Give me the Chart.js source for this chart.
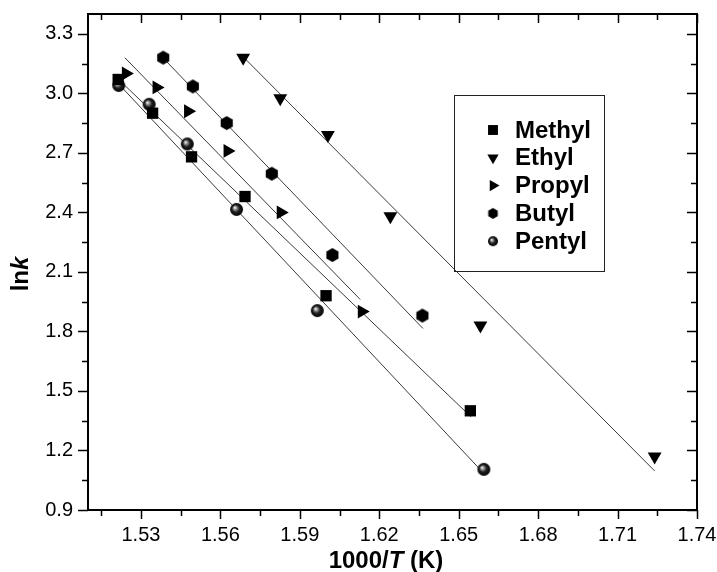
<!DOCTYPE html>
<html>
<head>
<meta charset="utf-8">
<script src="https://cdn.jsdelivr.net/npm/chart.js@4.4.0/dist/chart.umd.min.js"></script>
<style>
    html, body { margin: 0; padding: 0; background: #fff; }
    canvas { display: block; }
</style>
</head>
<body>
<canvas id="arrheniusChart" width="717" height="572"></canvas>
<script>
// values: x = 1000/T (K), y = ln k
const seriesNames = ['Methyl', 'Ethyl', 'Propyl', 'Butyl', 'Pentyl'];

const methylX = [1.5214, 1.5344, 1.5491, 1.5693, 1.5999, 1.6544];
const methylY = [3.07, 2.90, 2.68, 2.48, 1.98, 1.40];
const ethylX = [1.5686, 1.5826, 1.6006, 1.6242, 1.6582, 1.7240];
const ethylY = [3.18, 2.975, 2.79, 2.38, 1.83, 1.17];
const propylX = [1.5243, 1.5359, 1.5478, 1.5627, 1.5828, 1.6134];
const propylY = [3.10, 3.03, 2.91, 2.71, 2.40, 1.90];
const butylX = [1.5384, 1.5496, 1.5624, 1.5794, 1.6023, 1.6363];
const butylY = [3.18, 3.035, 2.85, 2.595, 2.185, 1.88];
const pentylX = [1.5216, 1.5331, 1.5475, 1.5661, 1.5966, 1.6595];
const pentylY = [3.04, 2.945, 2.745, 2.415, 1.905, 1.105];

// fitted lines, end points as drawn in the figure
const methylFitX = [1.5214, 1.6547];
const methylFitY = [3.072, 1.369];
const ethylFitX = [1.5687, 1.7240];
const ethylFitY = [3.183, 1.097];
const propylFitX = [1.5239, 1.6128];
const propylFitY = [3.180, 1.961];
const butylFitX = [1.5384, 1.6365];
const butylFitY = [3.178, 1.815];
const pentylFitX = [1.5216, 1.6586];
const pentylFitY = [3.047, 1.097];

const xTicks = [1.53, 1.56, 1.59, 1.62, 1.65, 1.68, 1.71, 1.74];
const xMinorTicks = [1.515, 1.545, 1.575, 1.605, 1.635, 1.665, 1.695, 1.725];
const yTicks = [0.9, 1.2, 1.5, 1.8, 2.1, 2.4, 2.7, 3.0, 3.3];
const yMinorTicks = [1.05, 1.35, 1.65, 1.95, 2.25, 2.55, 2.85, 3.15];

const toPoints = (xs, ys) => xs.map((v, i) => ({ x: v, y: ys[i] }));

function makeHexagon(r) {
    const size = Math.ceil(r * 2 + 2);
    const c = document.createElement('canvas');
    c.width = c.height = size;
    const ctx = c.getContext('2d');
    ctx.fillStyle = '#000';
    ctx.beginPath();
    for (let i = 0; i < 6; i++) {
        const a = Math.PI / 2 + i * Math.PI / 3;
        const px = size / 2 + r * Math.cos(a);
        const py = size / 2 + r * Math.sin(a);
        if (i === 0) ctx.moveTo(px, py); else ctx.lineTo(px, py);
    }
    ctx.closePath();
    ctx.fill();
    return c;
}

function makeSphere(r) {
    const size = Math.ceil(r * 2 + 2);
    const c = document.createElement('canvas');
    c.width = c.height = size;
    const ctx = c.getContext('2d');
    const cx = size / 2, cy = size / 2;
    const g = ctx.createRadialGradient(cx - r * 0.3, cy - r * 0.3, 0, cx, cy, r);
    g.addColorStop(0, '#ffffff');
    g.addColorStop(0.25, '#9a9a9a');
    g.addColorStop(0.55, '#222');
    g.addColorStop(1, '#000');
    ctx.fillStyle = g;
    ctx.beginPath();
    ctx.arc(cx, cy, r, 0, Math.PI * 2);
    ctx.fill();
    return c;
}

const hexBig = makeHexagon(7);
const sphereBig = makeSphere(6.5);
const hexSmall = makeHexagon(5.5);
const sphereSmall = makeSphere(5);

// pointStyle, rotation, radius on plot, radius in legend
const markerStyles = [
    { style: 'rect', rotation: 0, radius: 8, legendStyle: 'rect', legendRadius: 7 },
    { style: 'triangle', rotation: 180, radius: 8, legendStyle: 'triangle', legendRadius: 6.5 },
    { style: 'triangle', rotation: 90, radius: 8, legendStyle: 'triangle', legendRadius: 6.5 },
    { style: hexBig, rotation: 0, radius: 7, legendStyle: hexSmall, legendRadius: 5 },
    { style: sphereBig, rotation: 0, radius: 7, legendStyle: sphereSmall, legendRadius: 5 }
];

const pointSets = [
    toPoints(methylX, methylY),
    toPoints(ethylX, ethylY),
    toPoints(propylX, propylY),
    toPoints(butylX, butylY),
    toPoints(pentylX, pentylY)
];
const fitSets = [
    toPoints(methylFitX, methylFitY),
    toPoints(ethylFitX, ethylFitY),
    toPoints(propylFitX, propylFitY),
    toPoints(butylFitX, butylFitY),
    toPoints(pentylFitX, pentylFitY)
];

const datasets = [];
pointSets.forEach((pts, i) => {
    datasets.push({
        label: seriesNames[i],
        data: pts,
        showLine: false,
        pointStyle: markerStyles[i].style,
        rotation: markerStyles[i].rotation,
        pointRadius: markerStyles[i].radius,
        pointBackgroundColor: '#000',
        pointBorderColor: '#000',
        pointBorderWidth: 0
    });
});
fitSets.forEach((pts, i) => {
    datasets.push({
        label: seriesNames[i] + ' fit',
        data: pts,
        showLine: true,
        borderColor: '#3a3a3a',
        borderWidth: 1,
        pointRadius: 0,
        fill: false
    });
});

const framePlugin = {
    id: 'frame',
    afterDraw(chart) {
        const { ctx, chartArea: a, scales: { x, y } } = chart;
        ctx.save();
        ctx.strokeStyle = '#000';
        ctx.lineWidth = 2;
        ctx.strokeRect(a.left, a.top, a.right - a.left, a.bottom - a.top);
        ctx.lineWidth = 1.5;
        ctx.beginPath();
        const xMark = (v, len) => {
            const px = Math.round(x.getPixelForValue(v)) + 0.5;
            ctx.moveTo(px, a.bottom); ctx.lineTo(px, a.bottom + len);
            ctx.moveTo(px, a.top); ctx.lineTo(px, a.top + len);
        };
        const yMark = (v, len) => {
            const py = Math.round(y.getPixelForValue(v)) + 0.5;
            ctx.moveTo(a.left, py); ctx.lineTo(a.left - len, py);
            ctx.moveTo(a.right, py); ctx.lineTo(a.right - len, py);
        };
        xTicks.forEach(v => xMark(v, 9));
        xMinorTicks.forEach(v => xMark(v, 6));
        yTicks.forEach(v => yMark(v, 10));
        yMinorTicks.forEach(v => yMark(v, 6));
        ctx.stroke();

        // axis titles
        ctx.fillStyle = '#000';
        ctx.textBaseline = 'alphabetic';
        const parts = [
            { t: '1000/', f: 'bold 24px "Liberation Sans", Arial, sans-serif' },
            { t: 'T', f: 'italic bold 24px "Liberation Sans", Arial, sans-serif' },
            { t: ' (K)', f: 'bold 24px "Liberation Sans", Arial, sans-serif' }
        ];
        let total = 0;
        parts.forEach(p => { ctx.font = p.f; p.w = ctx.measureText(p.t).width; total += p.w; });
        let tx = 386 - total / 2;
        ctx.textAlign = 'left';
        parts.forEach(p => { ctx.font = p.f; ctx.fillText(p.t, tx, 568); tx += p.w; });

        ctx.save();
        ctx.translate(28, 274);
        ctx.rotate(-Math.PI / 2);
        const yParts = [
            { t: 'ln', f: 'bold 24px "Liberation Sans", Arial, sans-serif' },
            { t: 'k', f: 'italic bold 24px "Liberation Sans", Arial, sans-serif' }
        ];
        total = 0;
        yParts.forEach(p => { ctx.font = p.f; p.w = ctx.measureText(p.t).width; total += p.w; });
        tx = -total / 2;
        yParts.forEach(p => { ctx.font = p.f; ctx.fillText(p.t, tx, 0); tx += p.w; });
        ctx.restore();

        // legend box
        ctx.lineWidth = 1;
        ctx.strokeStyle = '#222';
        ctx.strokeRect(454.5, 95.5, 150, 176);
        ctx.font = 'bold 24px "Liberation Sans", Arial, sans-serif';
        ctx.textAlign = 'left';
        ctx.textBaseline = 'middle';
        seriesNames.forEach((name, i) => {
            const cy = 130 + i * 27.8;
            const m = markerStyles[i];
            ctx.fillStyle = '#000';
            Chart.helpers.drawPoint(ctx, {
                pointStyle: m.legendStyle,
                rotation: m.rotation,
                radius: m.legendRadius,
                borderWidth: 0
            }, 493, cy);
            ctx.fillStyle = '#000';
            ctx.fillText(name, 515, cy + 1);
        });
        ctx.restore();
    }
};

document.addEventListener('DOMContentLoaded', () => {
    const chartEl = document.getElementById('arrheniusChart');

    new Chart(chartEl, {
        type: 'scatter',
        data: { datasets: datasets },
        options: {
            responsive: false,
            animation: false,
            devicePixelRatio: 1,
            layout: { padding: { left: 0, top: 14, right: 20, bottom: 0 } },
            plugins: {
                legend: { display: false },
                tooltip: { enabled: false }
            },
            scales: {
                x: {
                    type: 'linear',
                    min: 1.51,
                    max: 1.74,
                    grid: { display: false, drawTicks: false },
                    border: { display: false },
                    afterBuildTicks: scale => { scale.ticks = xTicks.map(v => ({ value: v })); },
                    afterFit: scale => {
                        scale.height = 62;
                        scale.paddingLeft = 0;
                        scale.paddingRight = 0;
                    },
                    ticks: {
                        padding: 13,
                        color: '#000',
                        maxRotation: 0,
                        autoSkip: false,
                        font: { family: '"Liberation Sans", Arial, sans-serif', size: 20 },
                        callback: v => Number(v).toFixed(2)
                    }
                },
                y: {
                    type: 'linear',
                    min: 0.9,
                    max: 3.4,
                    grid: { display: false, drawTicks: false },
                    border: { display: false },
                    afterBuildTicks: scale => { scale.ticks = yTicks.map(v => ({ value: v })); },
                    afterFit: scale => {
                        scale.width = 88;
                        scale.paddingTop = 0;
                        scale.paddingBottom = 0;
                    },
                    ticks: {
                        padding: 15,
                        color: '#000',
                        autoSkip: false,
                        font: { family: '"Liberation Sans", Arial, sans-serif', size: 20 },
                        callback: v => Number(v).toFixed(1)
                    }
                }
            }
        },
        plugins: [framePlugin]
    });
});
</script>
</body>
</html>
